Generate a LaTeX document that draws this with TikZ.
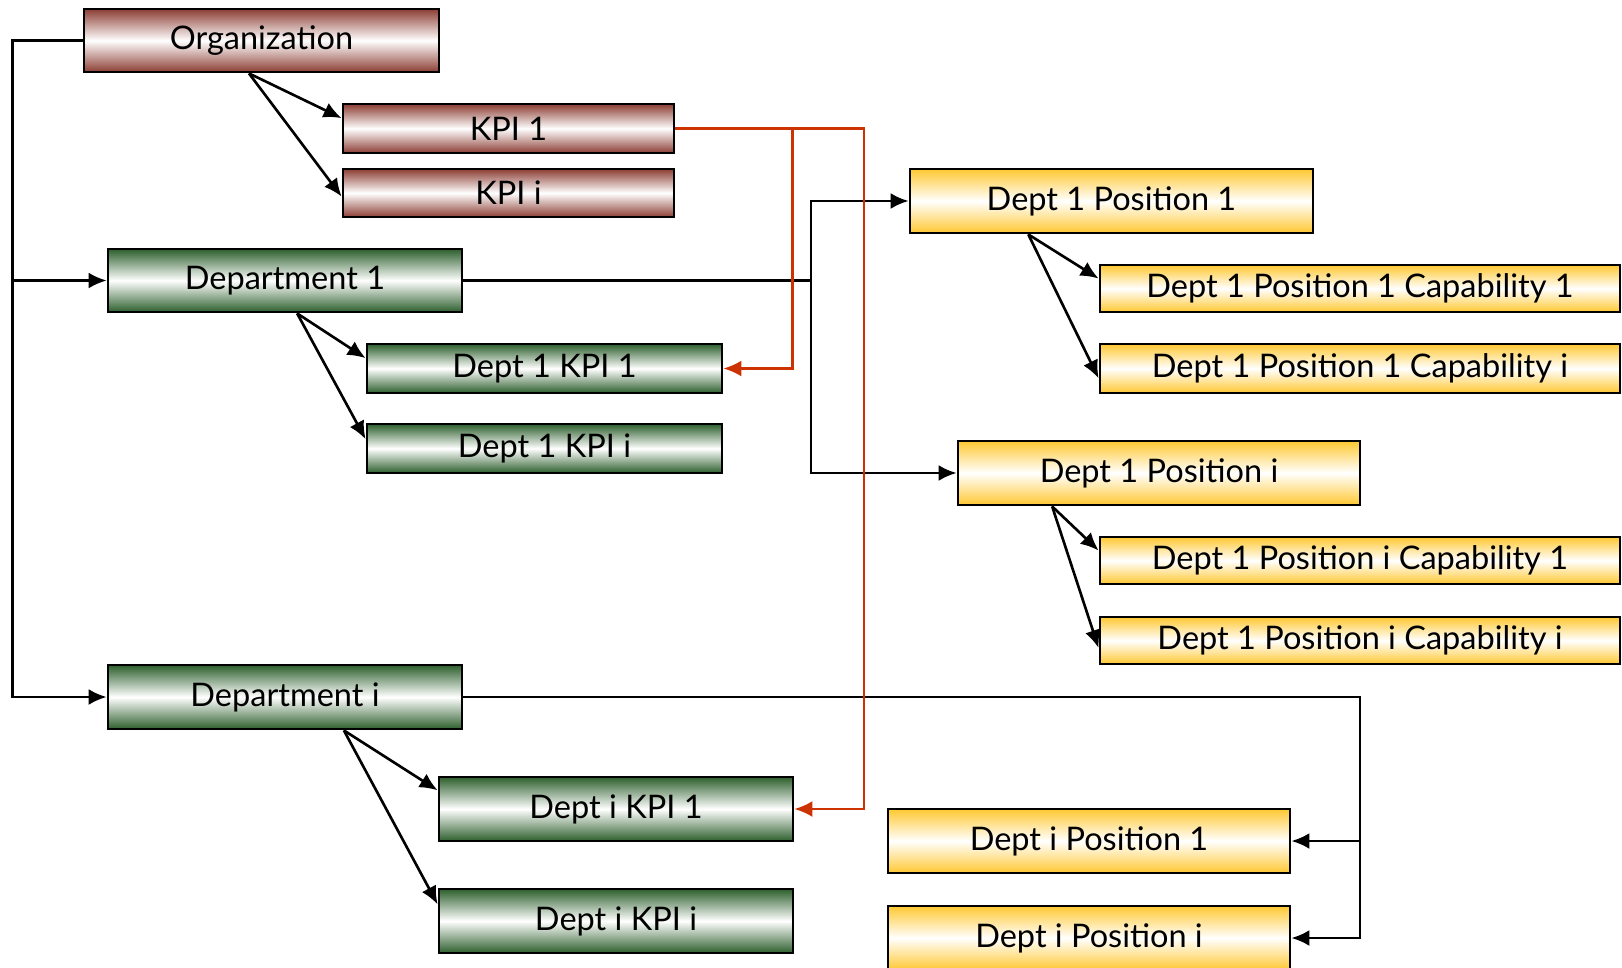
\documentclass[tikz,border=0pt]{standalone}
\usepackage{fontspec}
\setmainfont{Lato}
\usetikzlibrary{arrows.meta,calc}

\definecolor{orgbrown}{RGB}{140,62,52}
\definecolor{deptgreen}{RGB}{45,95,45}
\definecolor{posgold}{RGB}{255,200,50}
\definecolor{linkred}{RGB}{204,51,0}

\tikzset{
  box/.style={draw=black, line width=1.6pt, inner sep=0pt,
    font=\fontsize{18.5}{22}\selectfont, middle color=white},
  sz/.style 2 args={minimum width=#1*0.02cm, minimum height=#2*0.02cm},
  orgbox/.style={box, top color=orgbrown, bottom color=orgbrown, middle color=white},
  deptbox/.style={box, top color=deptgreen, bottom color=deptgreen, middle color=white},
  posbox/.style={box, top color=posgold, bottom color=posgold, middle color=white},
  bigtip/.tip={Latex[length=0.36cm, width=0.32cm]},
  conn/.style={draw=black, line width=1.5pt, -bigtip},
  redconn/.style={draw=linkred, line width=1.35pt, -bigtip}
}

\begin{document}
\begin{tikzpicture}[x=0.02cm, y=-0.02cm]
\useasboundingbox (0,0) rectangle (1622,967);

% organization level
\node[orgbox, sz={355}{63}] (org)  at (261.5,40.5) {Organization};
\node[orgbox, sz={331}{49}] (kpi1) at (508.5,128.5) {KPI 1};
\node[orgbox, sz={331}{48}] (kpii) at (508.5,193) {KPI i};

% departments and their KPIs
\node[deptbox, sz={354}{63}] (dep1) at (285,280.5) {Department 1};
\node[deptbox, sz={355}{49}] (d1k1) at (544.5,368.5) {Dept 1 KPI 1};
\node[deptbox, sz={355}{49}] (d1ki) at (544.5,448.5) {Dept 1 KPI i};
\node[deptbox, sz={354}{64}] (depi) at (285,697) {Department i};
\node[deptbox, sz={354}{64}] (dik1) at (616,809) {Dept i KPI 1};
\node[deptbox, sz={354}{64}] (diki) at (616,921) {Dept i KPI i};

% positions and capabilities
\node[posbox, sz={403}{64}] (d1p1) at (1111.5,201) {Dept 1 Position 1};
\node[posbox, sz={520}{47}] (c11)  at (1360,288.5) {Dept 1 Position 1 Capability 1};
\node[posbox, sz={520}{49}] (c1i)  at (1360,368.5) {Dept 1 Position 1 Capability i};
\node[posbox, sz={402}{64}] (d1pi) at (1159,473) {Dept 1 Position i};
\node[posbox, sz={520}{47}] (ci1)  at (1360,560.5) {Dept 1 Position i Capability 1};
\node[posbox, sz={520}{47}] (cii)  at (1360,640.5) {Dept 1 Position i Capability i};
\node[posbox, sz={402}{64}] (dip1) at (1089,841) {Dept i Position 1};
\node[posbox, sz={402}{64}] (dipi) at (1089,938) {Dept i Position i};

% left trunk from the organization to the departments
\coordinate (lb) at (12.4,697);
\draw[conn] (org.west) -| (lb) -- (depi.west);
\draw[conn] (lb |- dep1.west) -- (dep1.west);

% organization KPIs
\coordinate (o) at ($(org.south west)!0.465!(org.south east)$);
\draw[conn] (o) -- ($(kpi1.north west)!0.30!(kpi1.south west)$);
\draw[conn] (o) -- ($(kpii.north west)!0.57!(kpii.south west)$);

% department 1 KPIs
\coordinate (d1) at ($(dep1.south west)!0.534!(dep1.south east)$);
\draw[conn] (d1) -- ($(d1k1.north west)!0.30!(d1k1.south west)$);
\draw[conn] (d1) -- ($(d1ki.north west)!0.32!(d1ki.south west)$);

% department i KPIs
\coordinate (di) at ($(depi.south west)!0.665!(depi.south east)$);
\draw[conn] (di) -- ($(dik1.north west)!0.22!(dik1.south west)$);
\draw[conn] (di) -- ($(diki.north west)!0.25!(diki.south west)$);

% department 1 positions
\coordinate (b1) at (811,280.5);
\draw[conn] (dep1.east) -- (b1) |- (d1p1.west);
\draw[conn] (b1) |- (d1pi.west);

% position capabilities
\coordinate (p1) at ($(d1p1.south west)!0.295!(d1p1.south east)$);
\draw[conn] (p1) -- ($(c11.north west)!0.30!(c11.south west)$);
\draw[conn] (p1) -- ($(c1i.north west)!0.69!(c1i.south west)$);
\coordinate (pi) at ($(d1pi.south west)!0.236!(d1pi.south east)$);
\draw[conn] (pi) -- ($(ci1.north west)!0.30!(ci1.south west)$);
\draw[conn] (pi) -- ($(cii.north west)!0.65!(cii.south west)$);

% department i positions
\coordinate (bi) at (1360,841);
\draw[conn] (depi.east) -| (bi) -- (dip1.east);
\draw[conn] (bi) |- (dipi.east);

% KPI 1 cascades to department KPIs
\coordinate (r1) at (864,128.5);
\coordinate (r2) at (792.4,128.5);
\draw[redconn] (kpi1.east) -- (r1) |- (dik1.east);
\draw[redconn] (r2) |- (d1k1.east);
\end{tikzpicture}
\end{document}
